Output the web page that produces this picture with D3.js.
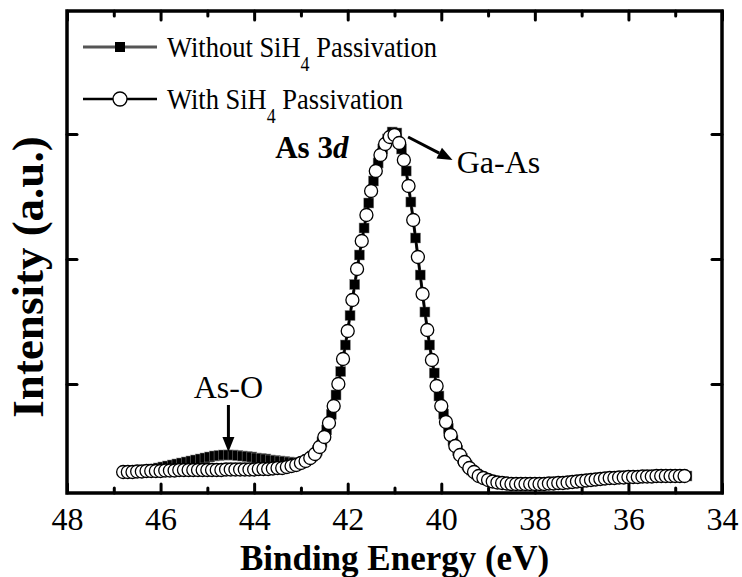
<!DOCTYPE html>
<html>
<head>
<meta charset="utf-8">
<script src="https://cdn.jsdelivr.net/npm/d3@7"></script>
<style>
  body { margin: 0; background: #fff; }
  text { font-family: "Liberation Serif", "Times New Roman", serif; fill: #000; }
</style>
</head>
<body>
<svg id="chart"></svg>
<script>
// As 3d XPS spectra, binding energy grid in eV (0.1 eV step)
var withStart = 46.8;
var withoutStart = 46.75;
var stepEV = 0.1;

// With SiH4 passivation (open circles), intensity a.u.
var withValues = [
  38, 38, 38, 38.5, 38.5, 39, 39, 39, 39, 39.5,
  39.5, 39.5, 40, 40, 40, 40, 40, 40, 40, 40,
  40, 40, 40.5, 40.5, 40.5, 40.5, 40.5, 40.5, 40.5, 41,
  41, 41, 41.5, 42, 42,
  43, 44, 45, 47, 49, 52, 56, 63, 73, 87,
  104, 126, 151, 179, 210, 241, 269, 295, 319, 339,
  355, 366, 373, 375, 367, 350, 324, 290, 253, 216,
  180, 150, 124, 104, 88, 75, 64, 55, 48, 42,
  38, 34, 32, 30, 28.5, 27.5, 27, 26.5,
  26, 26, 26, 26, 26, 26, 26, 26,
  26.5, 26.5, 27, 27, 27.5, 28, 28.5, 29, 29.5, 30,
  30.5, 31, 31.5, 32, 32, 32.5, 32.5, 33, 33, 33,
  33.5, 33.5, 33.5,
  34, 34, 34, 34, 34, 34, 34
];

// Without SiH4 passivation (filled squares), shows the As-O shoulder
var withoutValues = [
  38, 38, 38.5, 39, 39.5, 40, 41, 42, 43, 44,
  45, 46, 47, 48, 49, 50, 51, 52, 53, 54,
  54.5, 55, 55, 55, 54.5, 54, 53.5, 53, 52, 51.5,
  51, 50, 49.5, 49, 48.5,
  48, 47.5, 47, 48, 50.5, 54, 59.5, 68, 80, 95.5,
  115, 138.5, 165, 194.5, 225.5, 255, 282, 307, 329, 347,
  361, 371, 378, 377, 361, 339, 308, 272, 235, 198,
  165, 137, 114, 96, 81.5, 69.5, 59.5, 51.5, 45, 40,
  36, 33, 31, 29.5, 28, 27.5, 27,
  26.5, 26, 26, 26, 26, 26, 26, 26, 26,
  26.5, 27, 27, 27.5, 28, 28, 28.5, 29, 29.5, 30,
  30.5, 31, 31.5, 32, 32, 32.5, 32.5, 33, 33, 33,
  33.5, 33.5, 33.5,
  34, 34, 34, 34, 34, 34, 34
];

var xMajorTicks = [48, 46, 44, 42, 40, 38, 36, 34];
var xMinorTicks = [47, 45, 43, 41, 39, 37, 35];
var yTicks = [126, 251, 376];

var seriesNames = ["Without SiH", "With SiH"];

const dimensions = {
  width: 742,
  height: 577,
  margin: { top: 11, bottom: 84, left: 67, right: 20 },
};
var plotW = dimensions.width - dimensions.margin.left - dimensions.margin.right;
var plotH = dimensions.height - dimensions.margin.top - dimensions.margin.bottom;

var withData = withValues.map(function (v, i) {
  return { e: withStart - i * stepEV, v: v };
});
var withoutData = withoutValues.map(function (v, i) {
  return { e: withoutStart - i * stepEV, v: v };
});

var svg = d3
  .select("#chart")
  .attr("width", dimensions.width)
  .attr("height", dimensions.height);

svg.append("rect").attr("width", dimensions.width).attr("height", dimensions.height).attr("fill", "#fff");

var g = svg
  .append("g")
  .attr("transform", "translate(" + dimensions.margin.left + "," + dimensions.margin.top + ")");

var xScale = d3.scaleLinear().domain([48, 34]).range([0, plotW]);
var yScale = d3.scaleLinear().domain([17, 500]).range([plotH, -1]);

// ticks point inward on all four sides
function styleTicks(sel) {
  sel.select(".domain").remove();
  sel.selectAll("line").attr("stroke", "#000").attr("stroke-width", 3).attr("stroke-linecap", "round");
}

g.append("g")
  .attr("transform", "translate(0," + plotH + ")")
  .call(d3.axisBottom(xScale).tickValues(xMinorTicks).tickSize(-5).tickFormat(""))
  .call(styleTicks);
var bottomAxis = g
  .append("g")
  .attr("transform", "translate(0," + plotH + ")")
  .call(d3.axisBottom(xScale).tickValues(xMajorTicks).tickSize(-9).tickFormat(d3.format("d")))
  .call(styleTicks);
bottomAxis
  .selectAll("text")
  .attr("y", 37)
  .attr("dy", 0)
  .style("font-size", "32px");

g.append("g")
  .call(d3.axisTop(xScale).tickValues(xMinorTicks).tickSize(-5).tickFormat(""))
  .call(styleTicks);
g.append("g")
  .call(d3.axisTop(xScale).tickValues(xMajorTicks).tickSize(-9).tickFormat(""))
  .call(styleTicks);
g.append("g")
  .call(d3.axisLeft(yScale).tickValues(yTicks).tickSize(-10).tickFormat(""))
  .call(styleTicks);
g.append("g")
  .attr("transform", "translate(" + plotW + ",0)")
  .call(d3.axisRight(yScale).tickValues(yTicks).tickSize(-10).tickFormat(""))
  .call(styleTicks);

// frame
g.append("rect")
  .attr("width", plotW)
  .attr("height", plotH)
  .attr("fill", "none")
  .attr("stroke", "#000")
  .attr("stroke-width", 3.5);

var line = d3
  .line()
  .x(function (d) { return xScale(d.e); })
  .y(function (d) { return yScale(d.v); });

// without passivation
g.append("path")
  .datum(withoutData)
  .attr("d", line)
  .attr("fill", "none")
  .attr("stroke", "#222")
  .attr("stroke-width", 3);
g.selectAll(".sq")
  .data(withoutData)
  .enter()
  .append("rect")
  .attr("class", "sq")
  .attr("x", function (d) { return xScale(d.e) - 5; })
  .attr("y", function (d) { return yScale(d.v) - 5; })
  .attr("width", 10)
  .attr("height", 10)
  .attr("fill", "#000")
  .attr("stroke", "#888")
  .attr("stroke-width", 0.5);

// with passivation
g.append("path")
  .datum(withData)
  .attr("d", line)
  .attr("fill", "none")
  .attr("stroke", "#000")
  .attr("stroke-width", 2);
g.selectAll(".ci")
  .data(withData)
  .enter()
  .append("circle")
  .attr("class", "ci")
  .attr("cx", function (d) { return xScale(d.e); })
  .attr("cy", function (d) { return yScale(d.v); })
  .attr("r", 6.5)
  .attr("fill", "#fff")
  .attr("stroke", "#000")
  .attr("stroke-width", 1.3);

// legend
var legend = svg.append("g");
var legendY = [47, 99];
legend.append("line").attr("x1", 83).attr("x2", 157).attr("y1", legendY[0]).attr("y2", legendY[0])
  .attr("stroke", "#555").attr("stroke-width", 3);
legend.append("rect").attr("x", 115).attr("y", legendY[0] - 5).attr("width", 10).attr("height", 10).attr("fill", "#000");
legend.append("line").attr("x1", 83).attr("x2", 157).attr("y1", legendY[1]).attr("y2", legendY[1])
  .attr("stroke", "#000").attr("stroke-width", 2.5);
legend.append("circle").attr("cx", 120).attr("cy", legendY[1]).attr("r", 7)
  .attr("fill", "#fff").attr("stroke", "#000").attr("stroke-width", 1.3);

seriesNames.forEach(function (name, i) {
  var t = legend
    .append("text")
    .attr("transform", "translate(167," + (legendY[i] + 10) + ") scale(1,1.15)")
    .style("font-size", "26.5px");
  t.append("tspan").text(name);
  t.append("tspan").attr("dy", 12).style("font-size", "18px").text("4");
  t.append("tspan").attr("dy", -12).text(" Passivation");
});

// axis titles
svg.append("text")
  .attr("x", dimensions.margin.left + plotW / 2)
  .attr("y", 570)
  .attr("text-anchor", "middle")
  .style("font-size", "35px")
  .style("font-weight", "bold")
  .text("Binding Energy (eV)");

svg.append("text")
  .attr("transform", "translate(43,277) rotate(-90)")
  .attr("text-anchor", "middle")
  .style("font-size", "45px")
  .style("font-weight", "bold")
  .text("Intensity (a.u.)");

// annotations
var ann = g.append("g");
var as3d = ann.append("text")
  .attr("transform", "translate(" + xScale(43.55) + "," + yScale(352) + ")")
  .style("font-size", "31px")
  .style("font-weight", "bold");
as3d.append("tspan").text("As 3");
as3d.append("tspan").style("font-style", "italic").text("d");

ann.append("text")
  .attr("transform", "translate(" + xScale(39.67) + "," + yScale(337) + ")")
  .style("font-size", "32px")
  .text("Ga-As");

ann.append("text")
  .attr("transform", "translate(" + xScale(44.55) + "," + yScale(112) + ")")
  .attr("text-anchor", "middle")
  .style("font-size", "32px")
  .text("As-O");

function arrow(x1, y1, x2, y2) {
  var ang = Math.atan2(y2 - y1, x2 - x1);
  var len = 15, wid = 6;
  var bx = x2 - len * Math.cos(ang), by = y2 - len * Math.sin(ang);
  ann.append("line")
    .attr("x1", x1).attr("y1", y1).attr("x2", bx).attr("y2", by)
    .attr("stroke", "#000").attr("stroke-width", 3);
  ann.append("path")
    .attr("d", "M" + x2 + "," + y2 +
      "L" + (bx + wid * Math.sin(ang)) + "," + (by - wid * Math.cos(ang)) +
      "L" + (bx - wid * Math.sin(ang)) + "," + (by + wid * Math.cos(ang)) + "Z")
    .attr("fill", "#000");
}
arrow(xScale(40.71), yScale(373), xScale(39.76), yScale(350));
arrow(xScale(44.55), yScale(105), xScale(44.55), yScale(58));
</script>
</body>
</html>
